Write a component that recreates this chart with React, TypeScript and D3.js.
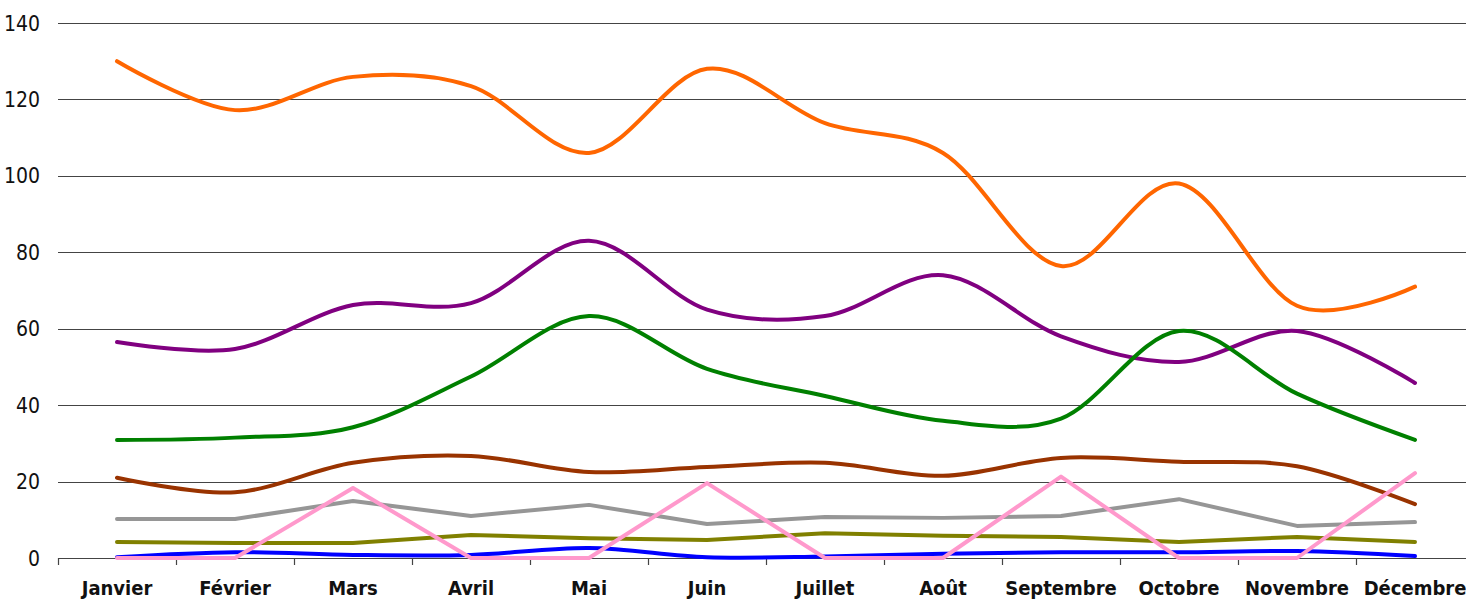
import React, { useEffect, useRef } from "react";
import * as d3 from "d3";

const months = ["Janvier", "Février", "Mars", "Avril", "Mai", "Juin", "Juillet", "Août", "Septembre", "Octobre", "Novembre", "Décembre"];
const yTicks = [0, 20, 40, 60, 80, 100, 120, 140];

const orange = [130, 117.2, 125.9, 123.5, 106, 128, 113.8, 106, 76.4, 98, 66, 71];
const purple = [56.5, 54.7, 66.2, 66.7, 83, 65, 63.3, 74, 58, 51.3, 59.4, 45.8];
const green = [30.9, 31.5, 34.2, 47.5, 63.3, 49.5, 42.4, 35.9, 36.5, 59.4, 43, 30.9];
const brown = [21, 17.2, 24.9, 26.7, 22.5, 23.8, 24.9, 21.5, 26.2, 25.2, 24, 14.1];
const gray = [10.2, 10.2, 14.9, 11, 13.9, 8.9, 10.7, 10.5, 11, 15.4, 8.4, 9.4];
const olive = [4.2, 3.9, 3.9, 6, 5.2, 4.7, 6.5, 5.8, 5.5, 4.2, 5.5, 4.2];
const blue = [0.2, 1.5, 0.8, 0.8, 2.6, 0.2, 0.4, 1.1, 1.5, 1.5, 1.8, 0.5];
const pink = [0, 0, 18.3, 0, 0, 19.6, 0, 0, 21.3, 0, 0, 22.2];

const seriesList = [
  { values: orange, color: "#FF6600", smooth: true },
  { values: purple, color: "#800080", smooth: true },
  { values: green, color: "#008000", smooth: true },
  { values: brown, color: "#993300", smooth: true },
  { values: gray, color: "#969696", smooth: false },
  { values: olive, color: "#808000", smooth: false },
  { values: blue, color: "#0000FF", smooth: true },
  { values: pink, color: "#FF99CC", smooth: false },
];

const W = 1466;
const H = 601;
const margin = { left: 58, right: -8, top: 23, bottom: 43 };
const FONT = "'DejaVu Sans Condensed', 'DejaVu Sans', sans-serif";

export default function App() {
  const ref = useRef<SVGSVGElement>(null);

  useEffect(() => {
    document.body.style.margin = "0";
    const svg = d3.select(ref.current);
    svg.selectAll("*").remove();

    const x = d3.scaleBand().domain(months).range([margin.left, W - margin.right]).paddingInner(0).paddingOuter(0);
    const y = d3.scaleLinear().domain([0, 140]).range([H - margin.bottom, margin.top]);

    svg.append("g")
      .selectAll("line")
      .data(yTicks)
      .join("line")
      .attr("x1", margin.left)
      .attr("x2", W)
      .attr("y1", (d) => Math.round(y(d)) + 0.5)
      .attr("y2", (d) => Math.round(y(d)) + 0.5)
      .attr("stroke", "#444")
      .attr("stroke-width", 1.2);

    svg.append("g")
      .selectAll("text")
      .data(yTicks)
      .join("text")
      .attr("x", 40)
      .attr("y", (d) => y(d))
      .attr("dy", "0.36em")
      .attr("text-anchor", "end")
      .attr("font-family", FONT)
      .style("font-stretch", "condensed")
      .attr("font-size", 21)
      .attr("fill", "#111")
      .text((d) => d);

    const tickPos = months.map((m) => x(m) as number).concat([(x(months[11]) as number) + x.bandwidth()]);
    svg.append("g")
      .selectAll("line")
      .data(tickPos)
      .join("line")
      .attr("x1", (d) => Math.round(d) + 0.5)
      .attr("x2", (d) => Math.round(d) + 0.5)
      .attr("y1", y(0))
      .attr("y2", y(0) + 7)
      .attr("stroke", "#444")
      .attr("stroke-width", 1.2);

    svg.append("g")
      .selectAll("text")
      .data(months)
      .join("text")
      .attr("x", (d) => (x(d) as number) + x.bandwidth() / 2)
      .attr("y", 595)
      .attr("text-anchor", "middle")
      .attr("font-family", FONT)
      .style("font-stretch", "condensed")
      .attr("font-weight", "bold")
      .attr("font-size", 20)
      .attr("fill", "#111")
      .text((d) => d);

    const cx = (i: number) => (x(months[i]) as number) + x.bandwidth() / 2;

    seriesList.forEach((s) => {
      const line = d3
        .line<number>()
        .x((_, i) => cx(i))
        .y((d) => y(d))
        .curve(s.smooth ? d3.curveCardinal.tension(0) : d3.curveLinear);
      svg.append("path")
        .attr("d", line(s.values))
        .attr("fill", "none")
        .attr("stroke", s.color)
        .attr("stroke-width", 4)
        .attr("stroke-linejoin", "round")
        .attr("stroke-linecap", "round");
    });
  }, []);

  return <svg ref={ref} width={W} height={H} style={{ display: "block", background: "#fff" }} />;
}
